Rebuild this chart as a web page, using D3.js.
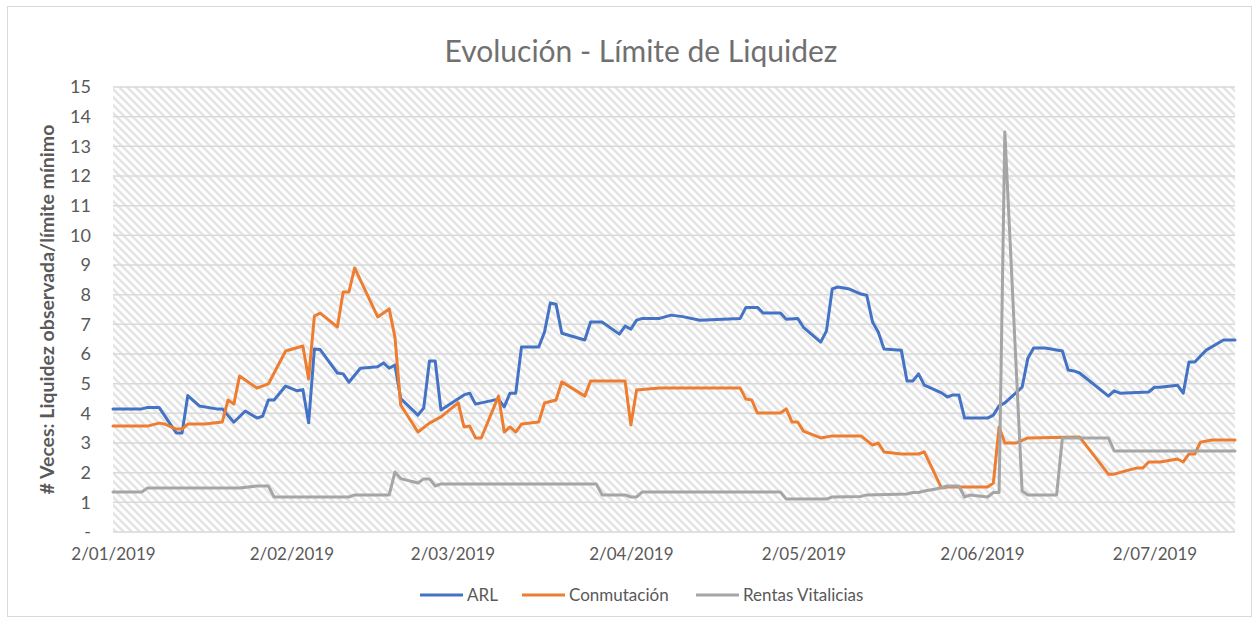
<!DOCTYPE html>
<html>
<head>
<meta charset="utf-8">
<script src="https://cdn.jsdelivr.net/npm/d3@7"></script>
<style>
  body { margin: 0; background: #fff; }
  text { font-family: Lato, "Open Sans", sans-serif; fill: #595959; }
</style>
</head>
<body>
<svg id="chart"></svg>
<script>
// --- data ---
var yTicks = [0, 1, 2, 3, 4, 5, 6, 7, 8, 9, 10, 11, 12, 13, 14, 15];
var xTickDates = ["2019-01-02", "2019-02-02", "2019-03-02", "2019-04-02", "2019-05-02", "2019-06-02", "2019-07-02"];
var seriesNames = ["ARL", "Conmutación", "Rentas Vitalicias"];

var arlDates = ["2019-01-02","2019-01-07","2019-01-08","2019-01-10","2019-01-13","2019-01-14","2019-01-15","2019-01-17","2019-01-20","2019-01-21","2019-01-23","2019-01-25","2019-01-27","2019-01-28","2019-01-29","2019-01-30","2019-02-01","2019-02-03","2019-02-04","2019-02-05","2019-02-06","2019-02-07","2019-02-10","2019-02-11","2019-02-12","2019-02-14","2019-02-17","2019-02-18","2019-02-19","2019-02-20","2019-02-21","2019-02-24","2019-02-25","2019-02-26","2019-02-27","2019-02-28","2019-03-04","2019-03-05","2019-03-06","2019-03-10","2019-03-11","2019-03-12","2019-03-13","2019-03-14","2019-03-17","2019-03-18","2019-03-19","2019-03-20","2019-03-21","2019-03-25","2019-03-26","2019-03-28","2019-03-31","2019-04-01","2019-04-02","2019-04-03","2019-04-04","2019-04-07","2019-04-09","2019-04-11","2019-04-14","2019-04-21","2019-04-22","2019-04-24","2019-04-25","2019-04-28","2019-04-29","2019-05-01","2019-05-02","2019-05-05","2019-05-06","2019-05-07","2019-05-08","2019-05-10","2019-05-12","2019-05-13","2019-05-14","2019-05-15","2019-05-16","2019-05-19","2019-05-20","2019-05-21","2019-05-22","2019-05-23","2019-05-26","2019-05-27","2019-05-28","2019-05-29","2019-05-30","2019-06-03","2019-06-04","2019-06-05","2019-06-06","2019-06-09","2019-06-10","2019-06-11","2019-06-13","2019-06-16","2019-06-17","2019-06-18","2019-06-19","2019-06-24","2019-06-25","2019-06-26","2019-07-01","2019-07-02","2019-07-03","2019-07-06","2019-07-07","2019-07-08","2019-07-09","2019-07-11","2019-07-14","2019-07-16"];
var arlValues = [4.15,4.15,4.2,4.2,3.34,3.34,4.6,4.25,4.15,4.15,3.7,4.08,3.84,3.9,4.45,4.45,4.92,4.76,4.8,3.68,6.17,6.15,5.36,5.33,5.05,5.52,5.57,5.7,5.52,5.63,4.5,3.94,4.18,5.76,5.76,4.11,4.62,4.68,4.31,4.48,4.22,4.68,4.68,6.24,6.24,6.74,7.72,7.68,6.7,6.47,7.08,7.08,6.67,6.94,6.84,7.14,7.2,7.2,7.31,7.26,7.14,7.2,7.57,7.57,7.38,7.38,7.17,7.2,6.9,6.4,6.78,8.19,8.26,8.19,8.02,7.98,7.08,6.74,6.17,6.13,5.09,5.09,5.33,4.95,4.69,4.55,4.62,4.62,3.84,3.84,3.94,4.25,4.35,4.88,5.86,6.2,6.2,6.1,5.46,5.43,5.36,4.58,4.76,4.68,4.72,4.88,4.88,4.95,4.68,5.73,5.73,6.13,6.47,6.47];

var conDates = ["2019-01-02","2019-01-08","2019-01-10","2019-01-11","2019-01-13","2019-01-14","2019-01-15","2019-01-18","2019-01-21","2019-01-22","2019-01-23","2019-01-24","2019-01-27","2019-01-29","2019-02-01","2019-02-04","2019-02-05","2019-02-06","2019-02-07","2019-02-10","2019-02-11","2019-02-12","2019-02-13","2019-02-17","2019-02-19","2019-02-20","2019-02-21","2019-02-24","2019-02-26","2019-02-28","2019-03-03","2019-03-04","2019-03-05","2019-03-06","2019-03-07","2019-03-10","2019-03-11","2019-03-12","2019-03-13","2019-03-14","2019-03-17","2019-03-18","2019-03-20","2019-03-21","2019-03-25","2019-03-26","2019-04-01","2019-04-02","2019-04-03","2019-04-05","2019-04-07","2019-04-21","2019-04-22","2019-04-23","2019-04-24","2019-04-28","2019-04-29","2019-04-30","2019-05-01","2019-05-02","2019-05-05","2019-05-07","2019-05-12","2019-05-14","2019-05-15","2019-05-16","2019-05-19","2019-05-22","2019-05-23","2019-05-26","2019-05-27","2019-06-03","2019-06-04","2019-06-05","2019-06-06","2019-06-08","2019-06-10","2019-06-19","2019-06-24","2019-06-25","2019-06-27","2019-06-29","2019-06-30","2019-07-01","2019-07-03","2019-07-06","2019-07-07","2019-07-08","2019-07-09","2019-07-10","2019-07-12","2019-07-16"];
var conValues = [3.57,3.57,3.67,3.64,3.47,3.47,3.64,3.64,3.71,4.45,4.31,5.26,4.85,4.99,6.1,6.27,5.16,7.28,7.38,6.91,8.09,8.09,8.9,7.25,7.52,6.57,4.28,3.37,3.67,3.88,4.35,3.54,3.57,3.17,3.17,4.58,3.37,3.54,3.37,3.64,3.71,4.35,4.45,5.06,4.58,5.09,5.09,3.61,4.79,4.82,4.85,4.85,4.48,4.45,4.01,4.01,4.15,3.71,3.71,3.4,3.17,3.24,3.24,2.93,3.0,2.7,2.63,2.63,2.7,1.48,1.52,1.52,1.65,3.54,3.0,3.0,3.17,3.2,1.95,1.95,2.06,2.16,2.16,2.36,2.36,2.46,2.36,2.63,2.63,3.03,3.1,3.1];

var rvDates = ["2019-01-02","2019-01-07","2019-01-08","2019-01-24","2019-01-27","2019-01-29","2019-01-30","2019-02-12","2019-02-13","2019-02-19","2019-02-20","2019-02-21","2019-02-24","2019-02-25","2019-02-26","2019-02-27","2019-02-28","2019-03-27","2019-03-28","2019-04-01","2019-04-02","2019-04-03","2019-04-04","2019-04-28","2019-04-29","2019-05-06","2019-05-07","2019-05-12","2019-05-13","2019-05-20","2019-05-21","2019-05-22","2019-05-23","2019-05-25","2019-05-27","2019-05-29","2019-05-30","2019-05-31","2019-06-03","2019-06-04","2019-06-05","2019-06-06","2019-06-09","2019-06-10","2019-06-15","2019-06-16","2019-06-24","2019-06-25","2019-07-16"];
var rvValues = [1.35,1.35,1.48,1.48,1.55,1.55,1.18,1.18,1.25,1.25,2.02,1.8,1.65,1.79,1.79,1.55,1.62,1.62,1.25,1.25,1.18,1.18,1.35,1.35,1.11,1.11,1.18,1.2,1.25,1.28,1.33,1.33,1.38,1.45,1.55,1.55,1.18,1.25,1.18,1.33,1.33,13.48,1.38,1.25,1.25,3.17,3.17,2.73,2.73];

var colors = ["#4472C4", "#ED7D31", "#A5A5A5"];

var width = 1259, height = 623;
var margin = {left: 113, right: 24, top: 87, bottom: 91};

var parse = d3.timeParse("%Y-%m-%d");
var fmt = d3.timeFormat("%-d/%m/%Y");

function toPoints(dates, values) {
    return dates.map(function(d, i) { return {date: parse(d), value: values[i]}; });
}
var series = [toPoints(arlDates, arlValues), toPoints(conDates, conValues), toPoints(rvDates, rvValues)];

var svg = d3.select("#chart")
    .attr("width", width)
    .attr("height", height);

// hatch fill for the plot area
var defs = svg.append("defs");
var pat = defs.append("pattern")
    .attr("id", "hatch")
    .attr("patternUnits", "userSpaceOnUse")
    .attr("width", 8)
    .attr("height", 8);
pat.append("rect").attr("width", 8).attr("height", 8).attr("fill", "#fff");
pat.append("path")
    .attr("d", "M0,0L8,8M-2,6L2,10M6,-2L10,2")
    .attr("stroke", "#e4e4e4")
    .attr("stroke-width", 2.6);

// outer frame
svg.append("rect")
    .attr("x", 7.5).attr("y", 6.5)
    .attr("width", width - 15).attr("height", height - 13)
    .attr("fill", "#fff")
    .attr("stroke", "#d9d9d9");

var x = d3.scaleTime()
    .domain([parse("2019-01-02"), parse("2019-07-16")])
    .range([margin.left, width - margin.right]);

var y = d3.scaleLinear()
    .domain([0, 15])
    .range([height - margin.bottom, margin.top]);

svg.append("rect")
    .attr("x", margin.left)
    .attr("y", margin.top)
    .attr("width", width - margin.right - margin.left)
    .attr("height", height - margin.bottom - margin.top)
    .attr("fill", "url(#hatch)");

// gridlines
svg.append("g")
    .selectAll("line")
    .data(yTicks)
    .enter().append("line")
    .attr("x1", margin.left)
    .attr("x2", width - margin.right)
    .attr("y1", function(d) { return y(d); })
    .attr("y2", function(d) { return y(d); })
    .attr("stroke", "#d9d9d9")
    .attr("stroke-width", 1.5);

// y axis labels
var yAxis = d3.axisLeft(y)
    .tickValues(yTicks)
    .tickSize(0)
    .tickPadding(22)
    .tickFormat(function(d) { return d === 0 ? "-" : d; });
var gy = svg.append("g")
    .attr("transform", "translate(" + margin.left + ",0)")
    .call(yAxis);
gy.select(".domain").remove();
gy.selectAll("text")
    .style("font-size", "18px")
    .attr("fill", "#595959");

// x axis labels
var xAxis = d3.axisBottom(x)
    .tickValues(xTickDates.map(parse))
    .tickSize(0)
    .tickPadding(16)
    .tickFormat(fmt);
var gx = svg.append("g")
    .attr("transform", "translate(0," + (height - margin.bottom) + ")")
    .call(xAxis);
gx.select(".domain").remove();
gx.selectAll("text")
    .style("font-size", "17px")
    .attr("fill", "#595959");

// lines
var line = d3.line()
    .x(function(d) { return x(d.date); })
    .y(function(d) { return y(d.value); });

svg.append("g")
    .selectAll("path")
    .data(series)
    .enter().append("path")
    .attr("d", line)
    .attr("fill", "none")
    .attr("stroke", function(d, i) { return colors[i]; })
    .attr("stroke-width", 3)
    .attr("stroke-linejoin", "round")
    .attr("stroke-linecap", "round");

// title
svg.append("text")
    .attr("x", 641)
    .attr("y", 62)
    .attr("text-anchor", "middle")
    .style("font-size", "30px")
    .style("fill", "#707070")
    .text("Evolución - Límite de Liquidez");

// y axis title
svg.append("text")
    .attr("transform", "translate(54," + ((margin.top + height - margin.bottom) / 2) + ") rotate(-90)")
    .attr("text-anchor", "middle")
    .style("font-size", "19.5px")
    .style("font-weight", "bold")
    .text("# Veces: Liquidez observada/límite mínimo");

// legend
var legendX = [420, 522, 696];
var leg = svg.append("g")
    .selectAll("g")
    .data(seriesNames)
    .enter().append("g")
    .attr("transform", function(d, i) { return "translate(" + legendX[i] + ",595)"; });
leg.append("line")
    .attr("x1", 0).attr("x2", 43)
    .attr("stroke", function(d, i) { return colors[i]; })
    .attr("stroke-width", 3);
leg.append("text")
    .attr("x", 47)
    .attr("dy", "0.35em")
    .style("font-size", "17px")
    .text(function(d) { return d; });
</script>
</body>
</html>
